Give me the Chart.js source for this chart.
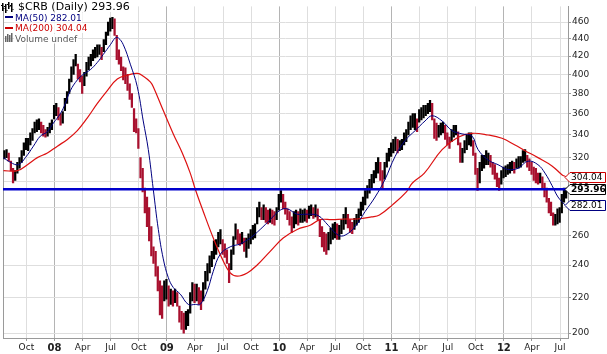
<!DOCTYPE html>
<html>
<head>
<meta charset="utf-8">
<script src="https://cdn.jsdelivr.net/npm/chart.js@4.4.1/dist/chart.umd.min.js"></script>
<style>
  html, body { margin: 0; padding: 0; background: #fff; }
  #wrap { width: 607px; height: 354px; }
</style>
</head>
<body>
<div id="wrap"><canvas id="chart" width="607" height="354"></canvas></div>
<script>
const START_MONTH = 6.65;      // months since Jan 2007 of the first bar
const WEEK = 12 / 52;

const HIGH = [
  326, 327, 324, 317, 311, 309, 316, 320, 326, 333,
  337, 337, 342, 346, 352, 354, 355, 352, 349, 345,
  347, 351, 354, 368, 370, 366, 360, 362, 375, 382,
  395, 408, 416, 422, 411, 405, 398, 402, 413, 419,
  422, 427, 430, 433, 433, 430, 439, 448, 460, 465,
  466, 464, 444, 427, 419, 408, 407, 400, 390, 380,
  365, 355, 346, 320, 311, 295, 288, 280, 266, 252,
  249, 239, 230, 227, 230, 231, 227, 225, 224, 225,
  223, 215, 212, 211, 212, 213, 223, 229, 228, 228,
  226, 224, 229, 236, 241, 246, 249, 256, 257, 262,
  264, 257, 254, 250, 241, 250, 259, 268, 264, 261,
  262, 258, 258, 261, 264, 267, 268, 280, 284, 280,
  282, 280, 278, 279, 278, 277, 280, 290, 293, 290,
  284, 279, 277, 273, 277, 278, 277, 279, 278, 279,
  278, 281, 282, 280, 282, 279, 271, 266, 262, 261,
  262, 265, 268, 269, 268, 267, 271, 275, 280, 275,
  271, 269, 272, 275, 279, 284, 288, 293, 297, 302,
  306, 309, 316, 320, 316, 309, 316, 324, 328, 333,
  336, 338, 336, 335, 336, 342, 345, 352, 358, 360,
  360, 355, 364, 366, 368, 368, 370, 373, 370, 355,
  351, 349, 351, 352, 349, 342, 338, 345, 349, 349,
  343, 333, 328, 335, 340, 342, 342, 335, 324, 311,
  316, 322, 322, 326, 324, 322, 316, 314, 307, 303,
  309, 312, 313, 314, 316, 317, 316, 319, 321, 321,
  326, 327, 322, 319, 316, 312, 311, 307, 307, 304,
  299, 295, 287, 284, 276, 275, 279, 280, 290, 295, 295
];
const LOW = [
  319, 320, 317, 309, 299, 301, 307, 311, 316, 322,
  327, 326, 331, 335, 342, 343, 345, 342, 339, 338,
  339, 342, 345, 355, 358, 354, 349, 351, 363, 370,
  380, 392, 400, 409, 395, 392, 380, 388, 398, 405,
  409, 415, 418, 419, 422, 416, 425, 433, 444, 449,
  452, 444, 416, 411, 404, 394, 390, 383, 374, 366,
  343, 342, 328, 303, 292, 276, 266, 256, 246, 241,
  233, 224, 210, 208, 218, 219, 215, 216, 215, 217,
  215, 206, 202, 200, 202, 204, 211, 218, 217, 218,
  216, 213, 218, 225, 230, 235, 239, 244, 247, 252,
  254, 247, 245, 241, 229, 237, 247, 257, 254, 253,
  254, 249, 245, 251, 254, 257, 258, 268, 273, 271,
  271, 269, 268, 269, 268, 267, 271, 278, 284, 279,
  275, 271, 267, 262, 265, 268, 267, 269, 269, 270,
  269, 272, 274, 272, 273, 271, 259, 252, 249, 247,
  250, 254, 257, 258, 257, 257, 261, 264, 268, 265,
  262, 261, 264, 267, 269, 274, 278, 282, 287, 291,
  295, 299, 303, 307, 301, 295, 302, 312, 317, 321,
  324, 326, 324, 326, 327, 331, 334, 340, 345, 347,
  345, 343, 352, 354, 356, 358, 360, 362, 354, 337,
  335, 338, 340, 342, 336, 331, 328, 334, 338, 340,
  331, 316, 316, 324, 327, 331, 330, 322, 306, 293,
  299, 309, 311, 314, 314, 312, 306, 302, 296, 293,
  298, 303, 304, 306, 307, 309, 307, 311, 311, 312,
  316, 317, 312, 309, 306, 301, 299, 298, 299, 295,
  288, 284, 276, 274, 267, 267, 268, 269, 276, 284, 287
];

// moving averages (month since Jan 2007, value)
const MA50_MONTH = [6.55, 7.29, 8.15, 8.89, 9.75, 10.49, 11.24, 11.88, 12.63, 13.16, 13.70, 14.44, 15.08, 15.83, 16.58, 17.22, 17.97, 18.50, 18.82, 19.35, 20.10, 20.84, 21.48, 22.02, 22.55, 23.09, 23.62, 24.16, 24.69, 25.44, 26.29, 27.04, 27.57, 28.32, 28.96, 29.70, 30.77, 31.84, 32.91, 33.97, 35.04, 36.11, 36.86, 37.92, 38.99, 40.16, 41.23, 42.30, 43.04, 44.11, 45.18, 46.25, 47.31, 48.38, 49.45, 50.52, 51.58, 52.33, 53.40, 54.46, 55.53, 56.60, 57.24, 58.31, 59.38, 60.44, 61.51, 62.58, 63.64, 64.39, 65.14, 65.78, 66.52];
const MA50 = [320, 316, 314, 320, 330, 339, 343, 351, 360, 370, 383, 394, 400, 405, 413, 422, 433, 441, 441, 433, 411, 387, 353, 327, 294, 264, 244, 232, 226, 222, 216, 216, 216, 224, 236, 247, 252, 254, 258, 264, 271, 278, 279, 275, 275, 274, 267, 260, 260, 266, 277, 288, 302, 321, 335, 344, 353, 358, 353, 344, 341, 339, 327, 318, 314, 310, 311, 317, 314, 307, 297, 288, 282];

const MA200_MONTH = [6.55, 8.04, 9.11, 10.17, 11.24, 12.31, 13.38, 14.44, 15.51, 16.58, 17.64, 18.71, 19.78, 20.85, 21.49, 22.23, 22.55, 23.62, 24.69, 25.65, 26.50, 27.04, 27.89, 28.96, 29.92, 30.77, 31.52, 32.59, 33.65, 35.04, 36.43, 37.92, 39.31, 40.38, 41.66, 42.97, 44.36, 45.85, 46.71, 48.10, 49.59, 50.23, 51.51, 53.40, 55.11, 56.60, 58.31, 59.80, 61.19, 62.26, 63.64, 65.14, 66.20, 66.63];
const MA200 = [309, 309, 314, 320, 324, 330, 336, 344, 356, 370, 383, 395, 399, 401, 398, 392, 387, 363, 341, 324, 307, 294, 277, 258, 244, 235, 233, 235, 240, 249, 258, 264, 267, 271, 271, 271.5, 271.5, 273, 274.4, 282, 292, 299, 307, 327, 338, 341.5, 340, 337, 331, 326, 320, 313, 305.7, 304.04];

const LAST_CLOSE = 293.96;
const LAST_MA50 = 282.01;
const LAST_MA200 = 304.04;

// axes
const X_MIN = 6.5, X_MAX = 66.85;
const TICK_MONTHS = [9, 12, 15, 18, 21, 24, 27, 30, 33, 36, 39, 42, 45, 48, 51, 54, 57, 60, 63, 66];
const TICK_LABELS = ['Oct', '08', 'Apr', 'Jul', 'Oct', '09', 'Apr', 'Jul', 'Oct', '10', 'Apr', 'Jul', 'Oct', '11', 'Apr', 'Jul', 'Oct', '12', 'Apr', 'Jul'];
const Y_TICKS = [200, 220, 240, 260, 280, 300, 320, 340, 360, 380, 400, 420, 440, 460];

const FONT = 'DejaVu Sans';
const isYear = i => /^\d/.test(TICK_LABELS[i] || '');

const weekX = HIGH.map((_, i) => START_MONTH + i * WEEK);
// red when the whole week sits lower than the week before
const barColors = HIGH.map((h, i) => (i > 0 && h < HIGH[i - 1] && LOW[i] < LOW[i - 1]) ? '#a8102e' : '#000000');

// plot frame, legend and right-hand value tags
const overlay = {
    id: 'overlay',
    beforeDatasetsDraw(chart) {
        const { ctx, chartArea: a } = chart;
        ctx.save();
        ctx.strokeStyle = '#9a9a9a';
        ctx.lineWidth = 1;
        ctx.beginPath();
        ctx.moveTo(a.left + 0.5, a.top);
        ctx.lineTo(a.left + 0.5, a.bottom);
        ctx.stroke();
        ctx.restore();
    },
    afterDraw(chart) {
        const { ctx } = chart;
        const yScale = chart.scales.y;
        ctx.save();

        // legend
        const rows = [
            { text: '$CRB (Daily) 293.96', x: 18, base: 10, size: 11, color: '#000' },
            { text: 'MA(50) 282.01', x: 15, base: 20.5, size: 9, color: '#000080' },
            { text: 'MA(200) 304.04', x: 15, base: 31, size: 9, color: '#cc0000' },
            { text: 'Volume undef', x: 15, base: 41.5, size: 9, color: '#555' }
        ];
        rows.forEach(r => {
            ctx.font = r.size + 'px "' + FONT + '"';
            const w = ctx.measureText(r.text).width;
            ctx.fillStyle = 'rgba(255,255,255,0.9)';
            ctx.fillRect(r.x - 1, r.base - r.size + 1, w + 2, r.size + 1);
            ctx.fillStyle = r.color;
            ctx.textBaseline = 'alphabetic';
            ctx.fillText(r.text, r.x, r.base);
        });
        // price icon
        ctx.fillStyle = '#000';
        [[2, 3, 8], [5, 4, 9], [8, 2, 7], [11, 3, 9]].forEach(([x, t, h]) => {
            ctx.fillRect(x, t, 1.5, h);
            ctx.fillRect(x - 1, t + 2, 1, 1);
            ctx.fillRect(x + 1.5, t + h - 3, 1, 1);
        });
        // ma dashes
        ctx.fillStyle = '#000080';
        ctx.fillRect(5, 16, 8, 2);
        ctx.fillStyle = '#cc0000';
        ctx.fillRect(5, 27, 8, 2);
        // volume icon
        ctx.fillStyle = '#666';
        [[5, 36], [7, 34], [9, 35], [11, 33]].forEach(([x, t]) => ctx.fillRect(x, t, 1.5, 42 - t));

        // value tags on the right axis
        const tags = [
            { v: LAST_MA200, text: '304.04', color: '#cc0000', bold: false },
            { v: LAST_MA50, text: '282.01', color: '#000080', bold: false },
            { v: LAST_CLOSE, text: '293.96', color: '#000000', bold: true }
        ];
        tags.forEach(t => {
            const y = Math.round(yScale.getPixelForValue(t.v)) + 0.5;
            const tip = 565, body = 570, right = 605.5;
            ctx.beginPath();
            ctx.moveTo(tip, y);
            ctx.lineTo(body, y - 5);
            ctx.lineTo(right, y - 5);
            ctx.lineTo(right, y + 5);
            ctx.lineTo(body, y + 5);
            ctx.closePath();
            ctx.fillStyle = '#fff';
            ctx.fill();
            ctx.strokeStyle = t.color;
            ctx.lineWidth = 1;
            ctx.stroke();
            ctx.font = (t.bold ? 'bold ' : '') + '9px "' + FONT + '"';
            ctx.fillStyle = '#000';
            ctx.textBaseline = 'middle';
            ctx.fillText(t.text, body + 1, y + 0.5);
        });
        ctx.restore();
    }
};

new Chart(document.getElementById('chart'), {
    type: 'bar',
    data: {
        datasets: [
            {
                type: 'line',
                data: [{ x: X_MIN, y: LAST_CLOSE }, { x: X_MAX, y: LAST_CLOSE }],
                borderColor: '#0000cc',
                borderWidth: 2.5,
                pointRadius: 0,
                order: 1
            },
            {
                type: 'line',
                data: MA50_MONTH.map((m, i) => ({ x: m, y: MA50[i] })),
                borderColor: '#000080',
                borderWidth: 1,
                pointRadius: 0,
                tension: 0.4,
                order: 2
            },
            {
                type: 'line',
                data: MA200_MONTH.map((m, i) => ({ x: m, y: MA200[i] })),
                borderColor: '#dd1111',
                borderWidth: 1.2,
                pointRadius: 0,
                tension: 0.4,
                order: 2
            },
            {
                type: 'bar',
                data: weekX.map((x, i) => ({ x: x, y: [LOW[i], HIGH[i]] })),
                backgroundColor: barColors,
                borderWidth: 0,
                barThickness: 1.6,
                grouped: false,
                order: 3
            }
        ]
    },
    options: {
        responsive: false,
        animation: false,
        layout: { padding: { left: 3, top: 1, right: 0, bottom: 0 } },
        plugins: { legend: { display: false }, tooltip: { enabled: false } },
        scales: {
            x: {
                type: 'linear',
                min: X_MIN,
                max: X_MAX,
                offset: false,
                afterBuildTicks: s => { s.ticks = TICK_MONTHS.map(v => ({ value: v })); },
                afterFit: s => { s.height = 16; },
                grid: {
                    offset: false,
                    color: c => isYear(c.index) ? '#b4b4b4' : '#dedede',
                    tickLength: 3,
                    tickColor: '#999'
                },
                border: { color: '#9a9a9a' },
                ticks: {
                    autoSkip: false,
                    maxRotation: 0,
                    padding: 1,
                    color: '#222',
                    callback: (v, i) => TICK_LABELS[i],
                    font: c => isYear(c.index)
                        ? { family: FONT, size: 10, weight: 'bold' }
                        : { family: FONT, size: 9 }
                }
            },
            y: {
                type: 'logarithmic',
                position: 'right',
                min: 197.4,
                max: 479.8,
                afterBuildTicks: s => { s.ticks = Y_TICKS.map(v => ({ value: v })); },
                afterFit: s => { s.width = 39; },
                grid: { color: '#dedede', tickLength: 3, tickColor: '#999' },
                border: { color: '#9a9a9a' },
                ticks: {
                    padding: 1,
                    color: '#222',
                    font: { family: FONT, size: 9 },
                    callback: v => String(v)
                }
            }
        }
    },
    plugins: [overlay]
});
</script>
</body>
</html>
